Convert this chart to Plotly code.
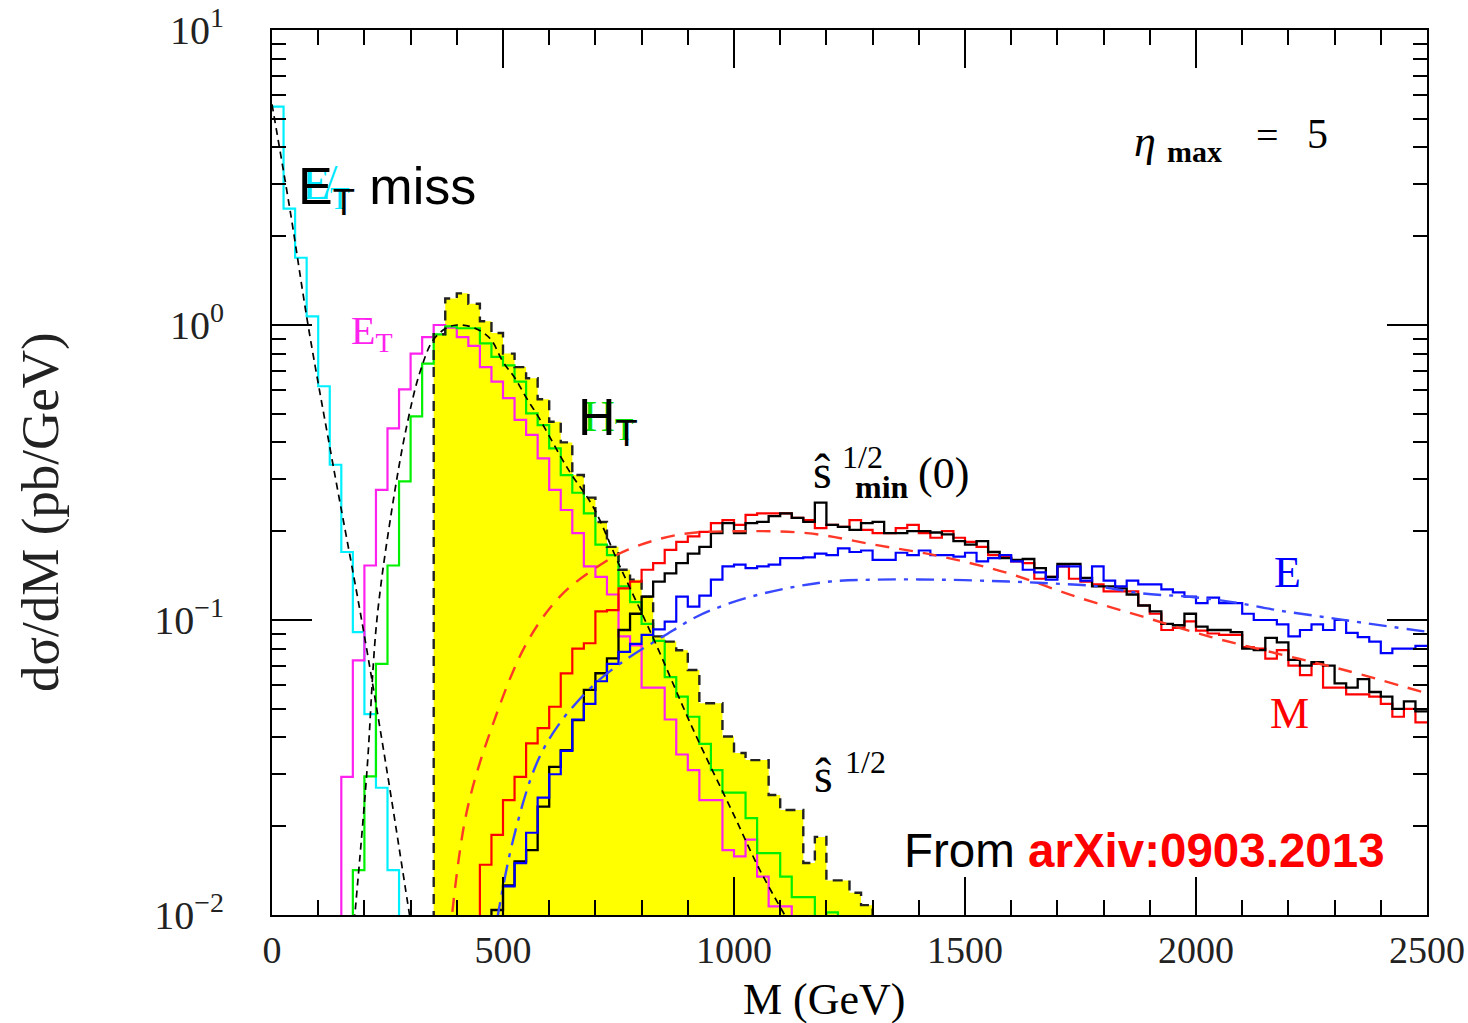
import plotly.graph_objects as go

BIN = 25
FLOOR = 1e-3

# ---------------- data (bin width 25 GeV; values in pb/GeV) ----------------
cyan_start = 0          # missing E_T
cyan_vals = [5.5, 2.48, 1.69, 1.07, 0.62, 0.336, 0.17, 0.091, 0.048, 0.027, 0.0142]

mag_start = 150         # E_T
mag_vals = [0.0294, 0.073, 0.153, 0.276, 0.446, 0.605, 0.80, 0.91, 1.0, 0.98, 0.91, 0.85,
            0.72, 0.643, 0.565, 0.477, 0.424, 0.353, 0.276, 0.236, 0.197, 0.152, 0.14,
            0.122, 0.088, 0.082, 0.059, 0.059, 0.046, 0.035, 0.031, 0.0245, 0.0245,
            0.0166, 0.0158, 0.018, 0.0135, 0.0107, 0.0107]

grn_start = 175         # H_T
grn_vals = [0.0142, 0.0295, 0.071, 0.153, 0.295, 0.49, 0.74, 0.93, 0.99, 0.975, 0.975,
            0.867, 0.78, 0.73, 0.643, 0.502, 0.458, 0.382, 0.31, 0.27, 0.23, 0.18, 0.166,
            0.13, 0.115, 0.097, 0.085, 0.064, 0.055, 0.047, 0.038, 0.031, 0.026, 0.026,
            0.0213, 0.0162, 0.0162, 0.0135, 0.0115, 0.0115, 0.009, 0.0102]

shat_start = 350        # s-hat^{1/2} (yellow)
shat_vals = [0.93, 1.23, 1.28, 1.18, 1.03, 0.94, 0.80, 0.72, 0.66, 0.56, 0.47, 0.40, 0.31,
             0.26, 0.215, 0.177, 0.148, 0.137, 0.12, 0.088, 0.0845, 0.079, 0.0677, 0.0522,
             0.0522, 0.0403, 0.0354, 0.0335, 0.0335, 0.0255, 0.0227, 0.0227, 0.015, 0.0184,
             0.0131, 0.0131, 0.0119, 0.0108]

red_start = 450         # M
red_vals = [0.0148, 0.0187, 0.0245, 0.0294, 0.0382, 0.043, 0.0508, 0.0659, 0.080, 0.0834,
            0.107, 0.108, 0.128, 0.135, 0.148, 0.156, 0.173, 0.184, 0.192, 0.199, 0.213,
            0.218, 0.21, 0.227, 0.23, 0.23, 0.23, 0.222, 0.218, 0.205, 0.21, 0.207, 0.218,
            0.202, 0.197, 0.197, 0.205, 0.21, 0.197, 0.19, 0.2, 0.19, 0.184, 0.177, 0.166,
            0.164, 0.158, 0.156, 0.138, 0.14, 0.152, 0.138, 0.135, 0.132, 0.125, 0.125,
            0.125, 0.112, 0.105, 0.0925, 0.094, 0.099, 0.092, 0.09, 0.089, 0.089, 0.081,
            0.08, 0.074, 0.079, 0.07, 0.065, 0.071, 0.059, 0.059, 0.056, 0.056, 0.055,
            0.052, 0.047, 0.05, 0.045]

blk_start = 475         # s-hat_min^{1/2}(0)
blk_vals = [0.0104, 0.0126, 0.0152, 0.0166, 0.0233, 0.0318, 0.0362, 0.0458, 0.058, 0.066,
            0.0741, 0.0925, 0.105, 0.12, 0.135, 0.144, 0.156, 0.168, 0.177, 0.197, 0.213,
            0.197, 0.213, 0.215, 0.225, 0.23, 0.222, 0.215, 0.25, 0.21, 0.207, 0.202, 0.213,
            0.215, 0.197, 0.197, 0.2, 0.2, 0.198, 0.195, 0.185, 0.18, 0.185, 0.17, 0.162,
            0.16, 0.161, 0.15, 0.14, 0.155, 0.155, 0.139, 0.13, 0.13, 0.128, 0.122, 0.112,
            0.107, 0.097, 0.096, 0.105, 0.095, 0.0925, 0.0925, 0.091, 0.08, 0.079, 0.087,
            0.084, 0.0733, 0.07, 0.072, 0.07, 0.061, 0.059, 0.063, 0.057, 0.055, 0.05,
            0.053, 0.049]

blu_start = 500         # E
blu_vals = [0.0125, 0.015, 0.019, 0.025, 0.030, 0.036, 0.046, 0.052, 0.062, 0.071, 0.078,
            0.083, 0.089, 0.093, 0.0987, 0.12, 0.111, 0.121, 0.137, 0.152, 0.154, 0.15,
            0.152, 0.154, 0.162, 0.162, 0.163, 0.168, 0.166, 0.175, 0.17, 0.172, 0.16, 0.16,
            0.169, 0.166, 0.172, 0.166, 0.166, 0.164, 0.169, 0.158, 0.162, 0.166, 0.158,
            0.148, 0.145, 0.137, 0.152, 0.152, 0.136, 0.152, 0.136, 0.13, 0.136, 0.132,
            0.132, 0.127, 0.124, 0.12, 0.114, 0.119, 0.114, 0.114, 0.105, 0.1, 0.1, 0.0967,
            0.088, 0.0925, 0.0967, 0.0925, 0.1, 0.0905, 0.0875, 0.0845, 0.0772, 0.08, 0.08,
            0.0817]

# smooth curves (read points)
fit1_x = [0, 40, 78, 130, 194, 250, 300, 315]
fit1_y = [5.6, 2.4, 1.0, 0.35, 0.1, 0.03, 0.0095, 0.0068]

fit2_x = [178, 205, 227, 260, 291, 320, 349, 378, 400, 436, 472, 500, 526, 551, 576, 602,
          627, 649, 695, 753, 825, 912, 998, 1056, 1118]
fit2_y = [0.0095, 0.03, 0.1, 0.24, 0.45, 0.69, 0.89, 0.977, 1.0, 0.98, 0.9, 0.75, 0.66,
          0.565, 0.49, 0.415, 0.353, 0.31, 0.242, 0.152, 0.087, 0.0424, 0.0221, 0.0142, 0.0095]

mfit_x = [385, 421, 479, 551, 623, 695, 768, 883, 1013, 1158, 1304, 1449, 1594, 1740, 1885,
          2031, 2175, 2321, 2500]
mfit_y = [0.0085, 0.0222, 0.0447, 0.0834, 0.12, 0.148, 0.1725, 0.195, 0.2, 0.197, 0.18,
          0.164, 0.144, 0.12, 0.1026, 0.0877, 0.077, 0.0677, 0.0564]

efit_x = [487, 522, 573, 623, 700, 775, 847, 919, 991, 1063, 1136, 1208, 1304, 1449, 1594,
          1690, 1787, 1885, 1982, 2079, 2175, 2272, 2369, 2500]
efit_y = [0.0096, 0.018, 0.0327, 0.0447, 0.061, 0.075, 0.088, 0.1026, 0.114, 0.123, 0.13,
          0.135, 0.137, 0.137, 0.135, 0.133, 0.13, 0.123, 0.12, 0.115, 0.108, 0.1026,
          0.0975, 0.0912]

x_ticks = [0, 500, 1000, 1500, 2000, 2500]
y_ticks = [0.01, 0.1, 1, 10]
y_ticktext = ["10<sup>\u22122</sup>", "10<sup>\u22121</sup>", "10<sup>0</sup>", "10<sup>1</sup>"]


def hist_xy(start, values, rise=True, fall=True):
    n = len(values)
    xs = [start + BIN * i for i in range(n)] + [start + BIN * n]
    ys = list(values) + [FLOOR if fall else values[-1]]
    if rise:
        xs = [start] + xs
        ys = [FLOOR] + ys
    return xs, ys


fig = go.Figure()

# yellow filled s-hat^{1/2}
xs, ys = hist_xy(shat_start, shat_vals)
fig.add_trace(go.Scatter(x=xs, y=ys, mode="lines", fill="toself", fillcolor="#FFFF00",
                         line=dict(shape="hv", width=0, color="#FFFF00"), hoverinfo="skip"))


def add_hist(start, vals, color, width=2.2, dash="solid", rise=True, fall=True):
    hx, hy = hist_xy(start, vals, rise, fall)
    fig.add_trace(go.Scatter(x=hx, y=hy, mode="lines",
                             line=dict(shape="hv", width=width, color=color, dash=dash),
                             hoverinfo="skip"))


add_hist(cyan_start, cyan_vals, "#00F0FF", rise=False)
add_hist(mag_start, mag_vals, "#FF22EE")
add_hist(grn_start, grn_vals, "#00F000")
add_hist(shat_start, shat_vals, "#222222", width=2.4, dash="10px,7px")
add_hist(red_start, red_vals, "#FF0000", fall=False)
add_hist(blk_start, blk_vals, "#000000", width=2.3, fall=False)
add_hist(blu_start, blu_vals, "#0000FF", fall=False)

fig.add_trace(go.Scatter(x=mfit_x, y=mfit_y, mode="lines",
                         line=dict(shape="spline", width=2.4, color="#FF3828", dash="14px,10px"),
                         hoverinfo="skip"))
fig.add_trace(go.Scatter(x=efit_x, y=efit_y, mode="lines",
                         line=dict(shape="spline", width=2.4, color="#3848FF",
                                   dash="18px,8px,4px,8px"), hoverinfo="skip"))
fig.add_trace(go.Scatter(x=fit1_x, y=fit1_y, mode="lines",
                         line=dict(shape="spline", width=1.7, color="#000000", dash="7px,5px"),
                         hoverinfo="skip"))
fig.add_trace(go.Scatter(x=fit2_x, y=fit2_y, mode="lines",
                         line=dict(shape="spline", width=1.7, color="#000000", dash="7px,5px"),
                         hoverinfo="skip"))

# ---------------- layout ----------------
L, R, T, B = 272, 1427, 30, 915


def pxx(x):
    return (x - L) / (R - L)


def pyy(y):
    return (B - y) / (B - T)


SERIF = "Liberation Serif"
SANS = "Liberation Sans"

ann = []


def add_text(text, x, y, size, color="black", family=SERIF, xanchor="center",
             yanchor="middle", angle=0):
    ann.append(dict(text=text, x=pxx(x), y=pyy(y), xref="paper", yref="paper",
                    showarrow=False, xanchor=xanchor, yanchor=yanchor, textangle=angle,
                    font=dict(family=family, size=size, color=color)))


# original plot labels (behind overlays)
add_text("E\u0338<sub>T</sub>", 300, 187, 46, color="#00E8FF", xanchor="left")
add_text("E<sub>T</sub>", 349, 333, 40, color="#FF22EE", xanchor="left")
add_text("H<sub>T</sub>", 581, 419, 44, color="#00E000", xanchor="left")
# overlay labels
add_text("E<sub>T</sub> miss", 296, 190, 52, family=SANS, xanchor="left")
add_text("H<sub>T</sub>", 576, 421, 52, family=SANS, xanchor="left")

# s-hat_min^{1/2}(0)
add_text("\u015d", 822, 471, 48)
add_text("1/2", 863, 457, 32)
add_text("<b>min</b>", 882, 487, 32)
add_text("(0)", 943, 473, 44)
# s-hat^{1/2}
add_text("\u015d", 823, 775, 48)
add_text("1/2", 865, 762, 32)

add_text("E", 1287, 572, 44, color="#0000FF")
add_text("M", 1289, 713, 44, color="#FF0000")

# eta_max = 5
add_text("<i>\u03b7</i>", 1145, 141, 44)
add_text("<b>max</b>", 1194, 151, 30)
add_text("=", 1267, 136, 40)
add_text("5", 1317, 134, 42)

add_text("From <b><span style='color:#FF0000'>arXiv:0903.2013</span></b>", 902, 850, 47.5,
         family=SANS, xanchor="left")

# axis titles
add_text("M (GeV)", 824, 999, 44)
add_text("d\u03c3/dM (pb/GeV)", 40, 512, 53, angle=-90, color="#222222")

minor_y = [m * 10.0 ** e for e in (-2, -1, 0) for m in range(2, 10)]

fig.update_layout(
    width=1468, height=1023,
    margin=dict(l=L, r=1468 - R, t=T, b=1023 - B, autoexpand=False),
    paper_bgcolor="white", plot_bgcolor="white",
    showlegend=False,
    annotations=ann,
    xaxis=dict(range=[0, 2500], showline=True, linecolor="black", linewidth=2,
               mirror="ticks", ticks="inside", ticklen=38, tickwidth=1.6, tickcolor="black",
               tickmode="array", tickvals=x_ticks, automargin=False,
               tickfont=dict(family=SERIF, size=38, color="#222222"),
               showgrid=False, zeroline=False, ticklabelstandoff=0,
               minor=dict(tick0=0, dtick=100, ticks="inside", ticklen=15, tickwidth=1.6,
                          tickcolor="black", showgrid=False)),
    yaxis=dict(type="log", range=[-2, 1], showline=True, linecolor="black", linewidth=2,
               mirror="ticks", ticks="inside", ticklen=40, tickwidth=1.6, tickcolor="black",
               tickmode="array", tickvals=y_ticks, ticktext=y_ticktext, automargin=False,
               tickfont=dict(family=SERIF, size=40, color="#222222"),
               showgrid=False, zeroline=False, ticklabelstandoff=38,
               minor=dict(tickmode="array", tickvals=minor_y, ticks="inside", ticklen=14,
                          tickwidth=1.6, tickcolor="black", showgrid=False)),
)

fig.write_html("out.html", config={"displayModeBar": False},
               post_script="document.documentElement.style.margin='0px';"
                           "document.body.style.margin='0px';"
                           "document.documentElement.style.overflow='hidden';"
                           "document.body.style.overflow='hidden';")
